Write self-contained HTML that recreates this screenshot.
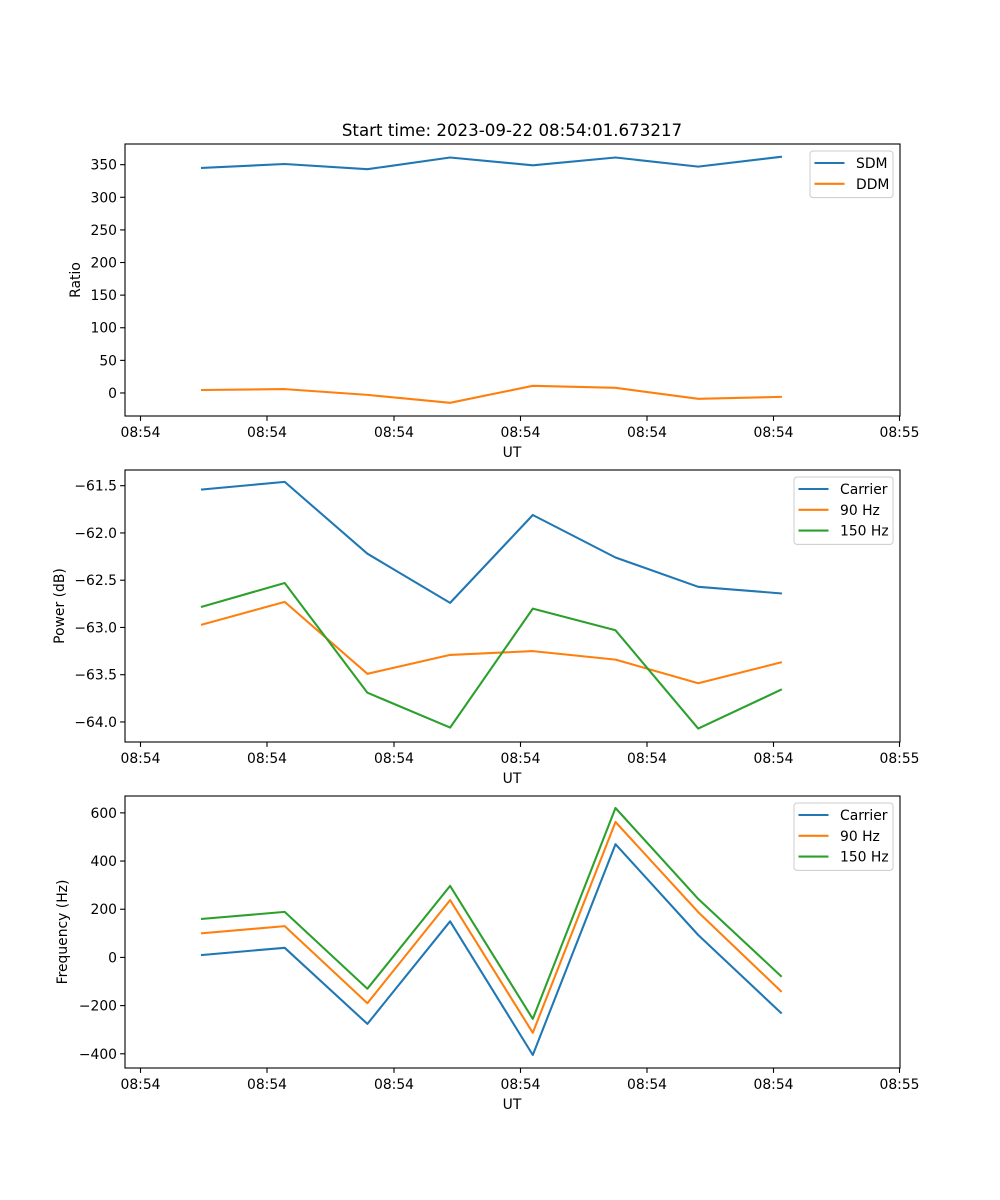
<!DOCTYPE html>
<html><head><meta charset="utf-8">
<style>
html,body{margin:0;padding:0;background:#fff;}
svg{display:block;font-family:"DejaVu Sans","Liberation Sans",sans-serif;}
</style></head>
<body>
<svg id="fig" width="1000" height="1200" xmlns="http://www.w3.org/2000/svg">
<rect width="1000" height="1200" fill="#fff"/>
<text x="512" y="136" font-size="16.67" text-anchor="middle">Start time: 2023-09-22 08:54:01.673217</text>
</svg>
<script>
// shared x categories (sample index)
const xLabels = ["08:54","08:54","08:54","08:54","08:54","08:54","08:54"];
// Panel 1: ratio
const sdm = [345,351,343,361,349,361,347,362];
const ddm = [4.6,6,-3,-15,11,8,-9,-6];
const ratioTicks = [0,50,100,150,200,250,300,350];
// Panel 2: power (dB)
const pCarrier = [-61.54,-61.46,-62.22,-62.74,-61.81,-62.26,-62.57,-62.64];
const p90 = [-62.97,-62.73,-63.49,-63.29,-63.25,-63.34,-63.59,-63.37];
const p150 = [-62.78,-62.53,-63.69,-64.06,-62.80,-63.03,-64.07,-63.66];
const powerTicks = [-64.0,-63.5,-63.0,-62.5,-62.0,-61.5];
// Panel 3: frequency (Hz)
const fCarrier = [10,40,-276,150,-405,470,93,-230];
const f90 = [100,130,-190,238,-313,562,188,-140];
const f150 = [160,189,-130,297,-255,620,243,-77];
const freqTicks = [-400,-200,0,200,400,600];

const NS="http://www.w3.org/2000/svg";
const fig=document.getElementById('fig');
function el(tag,attrs,parent){const e=document.createElementNS(NS,tag);for(const k in attrs)e.setAttribute(k,attrs[k]);(parent||fig).appendChild(e);return e;}
const C=["#1f77b4","#ff7f0e","#2ca02c"];
const L=125,R=900;
const xOf=i=>202+i*82.7;
const xTickPos=[140.5,267,394,520.5,647,773.5,899.5];
const xTickLbl=["08:54","08:54","08:54","08:54","08:54","08:54","08:55"];

function panel(name,top,bot,vmin,vmax,ticks,fmt,series,names,ylabel,ylabX,leg){
  const g=el('g',{});
  
  
  const yOf=v=>bot-(v-vmin)/(vmax-vmin)*(bot-top);
  series.forEach((s,k)=>{
    const p=el('polyline',{points:s.map((v,i)=>xOf(i).toFixed(1)+','+yOf(v).toFixed(1)).join(' '),fill:'none',stroke:C[k],'stroke-width':2.08,'stroke-linejoin':'round','stroke-linecap':'square'},g);
    
    
  });
  const fr=el('rect',{x:L,y:top,width:R-L,height:bot-top,fill:'none',stroke:'#000','stroke-width':1.1},g);
  
  
  ticks.forEach(t=>{
    const y=yOf(t);
    el('line',{x1:L-4.9,x2:L,y1:y,y2:y,stroke:'#000','stroke-width':1.1},g);
    const tx=el('text',{x:L-8,y:y+5,'font-size':13.9,'text-anchor':'end'},g);
    tx.textContent=fmt(t);
    
    
  });
  xTickPos.forEach((x,i)=>{
    el('line',{x1:x,x2:x,y1:bot,y2:bot+4.9,stroke:'#000','stroke-width':1.1},g);
    const tx=el('text',{x:x,y:bot+21,'font-size':13.9,'text-anchor':'middle'},g);
    tx.textContent=xTickLbl[i];
    
    
  });
  const xl=el('text',{x:512,y:bot+41,'font-size':13.9,'text-anchor':'middle'},g);
  xl.textContent='UT';
  
  
  const cy=(top+bot)/2;
  const yl=el('text',{x:ylabX,y:cy,'font-size':13.9,'text-anchor':'middle',transform:`rotate(-90 ${ylabX} ${cy})`},g);
  yl.textContent=ylabel;
  
  
  const lg=el('g',{},g);
  
  
  el('rect',{x:leg.x,y:top+7,width:R-7-leg.x,height:names.length*20.8+5,rx:3,fill:'#fff','fill-opacity':0.8,stroke:'#ccc','stroke-width':1},lg);
  names.forEach((n,k)=>{
    const y=top+19+k*20.8;
    el('line',{x1:leg.x+4.5,x2:leg.x+34.5,y1:y,y2:y,stroke:C[k],'stroke-width':2.08},lg);
    const t=el('text',{x:leg.x+46,y:y+5,'font-size':13.9},lg);
    t.textContent=n;
    
    
  });
}
const minus=s=>s.replace('-','\u2212');
panel('ratio-panel',144,416,-35.3,381.7,ratioTicks,t=>minus(String(t)),[sdm,ddm],['SDM','DDM'],'Ratio',80,{x:810});
panel('power-panel',470,742,-64.212,-61.334,powerTicks,t=>minus(t.toFixed(1)),[pCarrier,p90,p150],['Carrier','90 Hz','150 Hz'],'Power (dB)',64,{x:794});
panel('frequency-panel',796,1068,-459,670,freqTicks,t=>minus(String(t)),[fCarrier,f90,f150],['Carrier','90 Hz','150 Hz'],'Frequency (Hz)',67,{x:794});
</script>
</body></html>
